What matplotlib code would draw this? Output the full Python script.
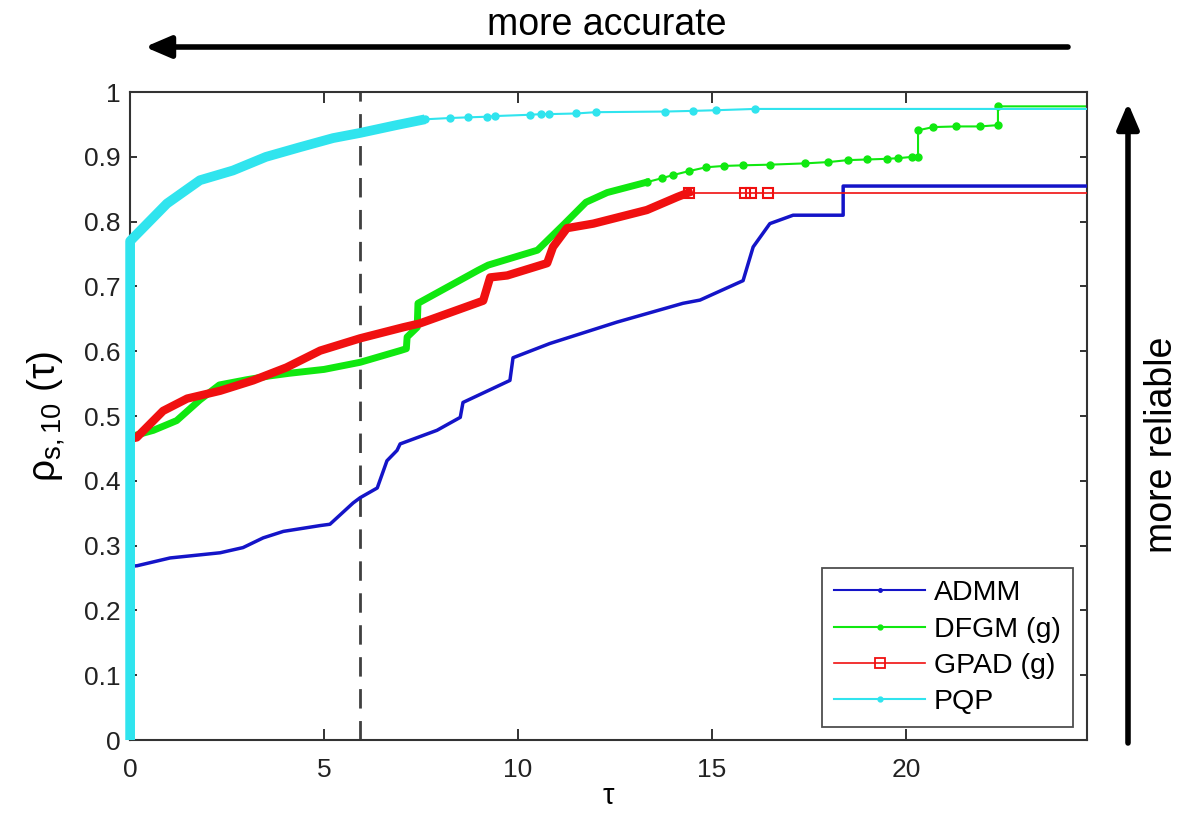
import matplotlib
matplotlib.use("Agg")
import matplotlib.pyplot as plt
from matplotlib.lines import Line2D

plt.rcParams['font.family'] = ['Liberation Sans', 'DejaVu Sans']
plt.rcParams['mathtext.fontset'] = 'custom'
plt.rcParams['mathtext.rm'] = 'Liberation Sans'
plt.rcParams['mathtext.it'] = 'Liberation Sans:italic'

# ---------------- data (tau, rho) ----------------
admm_tau = [0, 0.18, 1.03, 2.32, 2.91, 3.43, 3.95, 4.90, 5.15, 5.75, 5.93, 6.37, 6.62, 6.88,
            6.96, 7.91, 8.51, 8.58, 9.79, 9.87, 10.82, 12.55, 14.25, 14.69, 15.80, 16.06,
            16.49, 17.09, 18.38, 18.38, 24.67]
admm_rho = [0.268, 0.269, 0.281, 0.289, 0.297, 0.312, 0.322, 0.331, 0.333, 0.366, 0.374, 0.389,
            0.431, 0.447, 0.457, 0.478, 0.498, 0.521, 0.555, 0.590, 0.612, 0.645, 0.674, 0.679,
            0.709, 0.761, 0.797, 0.810, 0.810, 0.855, 0.855]

dfgm_tau_dense = [0, 0.6, 1.2, 1.8, 2.3, 3.0, 3.6, 4.1, 5.0, 5.93, 6.96, 7.12, 7.14, 7.40, 7.42,
                  8.97, 9.23, 10.5, 11.2, 11.75, 12.3, 13.32]
dfgm_rho_dense = [0.468, 0.478, 0.493, 0.525, 0.548, 0.556, 0.562, 0.566, 0.572, 0.583, 0.601,
                  0.604, 0.622, 0.637, 0.674, 0.725, 0.733, 0.756, 0.797, 0.830, 0.845, 0.861]
dfgm_tau_sparse = [13.32, 13.7, 14.0, 14.4, 14.85, 15.3, 15.8, 16.5, 17.4, 18.0, 18.5, 19.0,
                   19.5, 19.8, 20.15, 20.31, 20.31, 20.7, 21.3, 21.9, 22.37, 22.37, 24.67]
dfgm_rho_sparse = [0.861, 0.867, 0.872, 0.878, 0.884, 0.886, 0.887, 0.888, 0.890, 0.892, 0.895,
                   0.896, 0.897, 0.898, 0.900, 0.900, 0.941, 0.946, 0.947, 0.947, 0.949, 0.978,
                   0.978]

gpad_tau_dense = [0, 0.17, 0.85, 1.47, 2.32, 3.17, 4.03, 4.9, 5.93, 7.04, 7.47, 8.17, 9.10,
                  9.28, 9.72, 10.75, 10.9, 11.26, 11.94, 13.32, 14.1, 14.4]
gpad_rho_dense = [0.465, 0.467, 0.508, 0.527, 0.539, 0.555, 0.575, 0.601, 0.620, 0.637, 0.643,
                  0.658, 0.678, 0.714, 0.717, 0.736, 0.761, 0.790, 0.797, 0.818, 0.838, 0.845]
gpad_tau_sparse = [14.4, 15.85, 16.0, 16.45, 24.67]
gpad_rho_sparse = [0.845, 0.845, 0.845, 0.845, 0.845]

pqp_tau_dense = [0, 0, 0.08, 0.95, 1.8, 2.65, 3.5, 4.38, 5.23, 5.93, 6.86, 7.6]
pqp_rho_dense = [0, 0.77, 0.775, 0.828, 0.864, 0.879, 0.900, 0.915, 0.929, 0.937, 0.949, 0.958]
pqp_tau_sparse = [7.6, 8.25, 8.7, 9.2, 9.4, 10.3, 10.6, 10.8, 11.5, 12.0, 13.8, 14.5, 15.1,
                  16.1, 24.67]
pqp_rho_sparse = [0.958, 0.960, 0.961, 0.962, 0.963, 0.965, 0.966, 0.966, 0.967, 0.969, 0.970,
                  0.971, 0.972, 0.974, 0.974]

tau_ref = 5.93
labels = ['ADMM', 'DFGM (g)', 'GPAD (g)', 'PQP']
xticks = [0, 5, 10, 15, 20]
yticks = [0, 0.1, 0.2, 0.3, 0.4, 0.5, 0.6, 0.7, 0.8, 0.9, 1]
yticklabels = ['0', '0.1', '0.2', '0.3', '0.4', '0.5', '0.6', '0.7', '0.8', '0.9', '1']

c_blue = '#1414c8'
c_green = '#10e810'
c_red = '#f01010'
c_cyan = '#30e4ee'

# ---------------- figure ----------------
fig = plt.figure(figsize=(11.83, 8.15), dpi=100)
ax = fig.add_axes([0.110, 0.092, 0.809, 0.795])

ax.axvline(tau_ref, color='#404040', lw=2, dashes=(7, 4.5), zorder=1)

# PQP
ax.plot(pqp_tau_dense, pqp_rho_dense, color=c_cyan, lw=7, solid_capstyle='butt', zorder=6,
        clip_on=False)
ax.plot(pqp_tau_sparse, pqp_rho_sparse, color=c_cyan, lw=1.5, marker='o', ms=5,
        markevery=list(range(len(pqp_tau_sparse) - 1)), zorder=5)
# ADMM
ax.plot(admm_tau, admm_rho, color=c_blue, lw=2.5, zorder=3)
# DFGM
ax.plot(dfgm_tau_dense, dfgm_rho_dense, color=c_green, lw=5, zorder=2)
ax.plot(dfgm_tau_sparse, dfgm_rho_sparse, color=c_green, lw=1.5, marker='o', ms=5,
        markevery=list(range(len(dfgm_tau_sparse) - 1)), zorder=2)
# GPAD
ax.plot(gpad_tau_dense, gpad_rho_dense, color=c_red, lw=6, zorder=4)
ax.plot(gpad_tau_sparse, gpad_rho_sparse, color=c_red, lw=1.2, marker='s', ms=7,
        mfc='none', mew=1.5, markevery=[0, 1, 2, 3], zorder=4)

ax.set_xlim(0, 24.67)
ax.set_ylim(0, 1)
ax.set_xticks(xticks)
ax.set_yticks(yticks)
ax.set_yticklabels(yticklabels)
ax.tick_params(axis='both', direction='in', top=True, right=True, labelsize=19,
               colors='#222222', width=1.3)
ax.tick_params(axis='x', length=8, pad=13)
ax.tick_params(axis='y', length=5, pad=7)
for s in ax.spines.values():
    s.set_color('#333333')
    s.set_linewidth(1.5)

ax.set_xlabel('τ', fontsize=21, labelpad=0)
ax.set_ylabel(r'$\mathrm{ρ_{s,10}\ (τ)}$', fontsize=28, labelpad=12)

leg_handles = [
    Line2D([], [], color=c_blue, lw=1.5, marker='.', ms=5),
    Line2D([], [], color=c_green, lw=1.5, marker='.', ms=7),
    Line2D([], [], color=c_red, lw=1.2, marker='s', ms=7, mfc='none', mew=1.3),
    Line2D([], [], color=c_cyan, lw=1.5, marker='.', ms=7),
]
leg = ax.legend(leg_handles, labels, loc='lower right', bbox_to_anchor=(0.985, 0.02),
                borderaxespad=0, fontsize=20.5, frameon=True, fancybox=False,
                handlelength=3.2, handletextpad=0.3, labelspacing=0.36,
                borderpad=0.42)
leg.get_frame().set_edgecolor('#222222')
leg.get_frame().set_linewidth(1.3)

# arrows and annotations
ax.annotate('', xy=(145, 768), xytext=(1068, 768), xycoords='figure pixels',
            textcoords='figure pixels',
            arrowprops=dict(arrowstyle='-|>,head_length=0.7,head_width=0.3', lw=4,
                            color='black', mutation_scale=22, shrinkA=0, shrinkB=0),
            annotation_clip=False)
ax.annotate('', xy=(1128, 712), xytext=(1128, 72), xycoords='figure pixels',
            textcoords='figure pixels',
            arrowprops=dict(arrowstyle='-|>,head_length=0.7,head_width=0.3', lw=4,
                            color='black', mutation_scale=22, shrinkA=0, shrinkB=0),
            annotation_clip=False)
fig.text(607 / 1183, 790 / 815, 'more accurate', ha='center', va='center', fontsize=27)
fig.text(1162 / 1183, 370 / 815, 'more reliable', ha='center', va='center', fontsize=27,
         rotation=90)

fig.savefig('out.png', dpi=100)
